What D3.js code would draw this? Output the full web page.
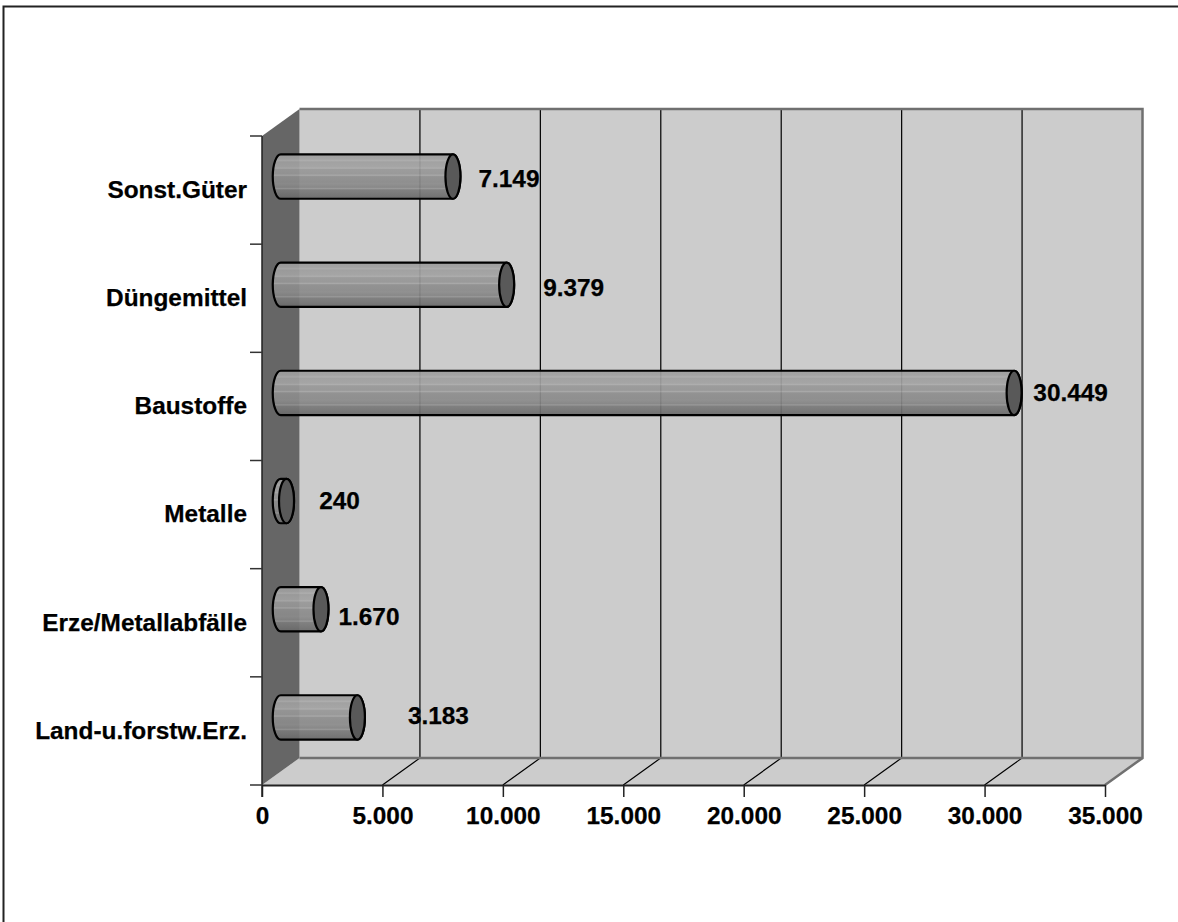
<!DOCTYPE html>
<html>
<head>
<meta charset="utf-8">
<script src="https://cdn.jsdelivr.net/npm/d3@7"></script>
<style>
  html, body { margin: 0; padding: 0; background: #fff; }
  svg { display: block; }
  text { font-family: "Liberation Sans", Arial, sans-serif; font-weight: bold; fill: #000; stroke: #000; stroke-width: 0.25px; }
</style>
</head>
<body>
<div id="chart"></div>
<script>
// data, top to bottom
var categories = ["Sonst.Güter", "Düngemittel", "Baustoffe", "Metalle", "Erze/Metallabfälle", "Land-u.forstw.Erz."];
var values = [7149, 9379, 30449, 240, 1670, 3183];
var xTicks = [0, 5000, 10000, 15000, 20000, 25000, 30000, 35000];

// the value labels were placed by hand in the original
var labelShiftX = [56, 67, 56.5, 53, 48, 81];
var labelShiftY = [2, 2, -1, -1, 7, -2];

var width = 1178, height = 922;
var depthX = 37.5, depthY = 27;
var fontSize = "24.4px";

var svg = d3.select("#chart").append("svg")
  .attr("width", width)
  .attr("height", height);

// outer frame, only top and left are visible
svg.append("path")
  .attr("d", "M3.5,922V6.5H1178")
  .attr("fill", "none")
  .attr("stroke", "#222")
  .attr("stroke-width", 2);

var x = d3.scaleLinear().domain([0, 35000]).range([262, 1105]);
var y = d3.scaleBand().domain(categories).range([136, 785]);

var de = d3.formatLocale({ decimal: ",", thousands: ".", grouping: [3], currency: ["", " €"] });
var fmt = de.format(",d");

var x0 = x(0), x1 = x(35000), yTop = y.range()[0], yBot = y.range()[1];

// back wall
svg.append("rect")
  .attr("x", x0 + depthX).attr("y", yTop - depthY)
  .attr("width", x1 - x0).attr("height", yBot - yTop)
  .attr("fill", "#cccccc");

// floor
svg.append("path")
  .attr("d", "M" + x0 + "," + yBot + "L" + (x0 + depthX) + "," + (yBot - depthY) +
    "H" + (x1 + depthX) + "L" + x1 + "," + yBot + "Z")
  .attr("fill", "#cccccc");

// left wall
svg.append("path")
  .attr("d", "M" + x0 + "," + yTop + "L" + (x0 + depthX) + "," + (yTop - depthY) +
    "V" + (yBot - depthY) + "L" + x0 + "," + yBot + "Z")
  .attr("fill", "#666666");

// gridlines on wall and floor
var inner = xTicks.slice(1, -1);
svg.append("g").selectAll("path").data(inner).enter().append("path")
  .attr("d", function(d) {
    return "M" + (x(d) + depthX) + "," + (yTop - depthY) + "V" + (yBot - depthY) +
      "L" + x(d) + "," + yBot;
  })
  .attr("fill", "none")
  .attr("stroke", "#000")
  .attr("stroke-width", 1.2);

// grey border of wall and floor
svg.append("path")
  .attr("d", "M" + (x0 + depthX) + "," + (yTop - depthY) + "H" + (x1 + depthX) +
    "V" + (yBot - depthY) + "L" + x1 + "," + yBot)
  .attr("fill", "none")
  .attr("stroke", "#707070")
  .attr("stroke-width", 2.5);
svg.append("path")
  .attr("d", "M" + (x0 + depthX) + "," + (yBot - depthY) + "H" + (x1 + depthX))
  .attr("stroke", "#707070")
  .attr("stroke-width", 2.5);

// banded metal look of the bars
var defs = svg.append("defs");
var grad = defs.append("linearGradient")
  .attr("id", "barFill")
  .attr("x1", 0).attr("y1", 0).attr("x2", 0).attr("y2", 1);
[[0, "#9c9c9c"], [0.1, "#a0a0a0"], [0.14, "#ababab"], [0.17, "#9e9e9e"], [0.28, "#a2a2a2"], [0.31, "#ababab"],
 [0.34, "#989898"], [0.44, "#959595"], [0.47, "#a6a6a6"], [0.5, "#8e8e8e"], [0.62, "#8a8a8a"], [0.66, "#8c8c8c"],
 [0.74, "#838383"], [0.77, "#959595"], [0.8, "#7a7a7a"], [0.9, "#727272"], [1, "#686868"]].forEach(function(s) {
  grad.append("stop").attr("offset", s[0]).attr("stop-color", s[1]);
});

var barH = y.bandwidth() * 0.41;
var ry = barH / 2, rxL = 8, rxR = 7.5;
var startX = x0 + depthX / 2;

function barCenter(name) {
  return y(name) + y.bandwidth() / 2 - depthY / 2;
}
function barEnd(v) {
  return startX + x(v) - x0;
}

var bars = svg.append("g").selectAll("g").data(categories).enter().append("g");

bars.append("path")
  .attr("d", function(d, i) {
    var c = barCenter(d), e = barEnd(values[i]);
    return "M" + startX + "," + (c - ry) + "L" + e + "," + (c - ry) +
      "A" + rxR + "," + ry + " 0 0 1 " + e + "," + (c + ry) +
      "L" + startX + "," + (c + ry) +
      "A" + rxL + "," + ry + " 0 0 1 " + startX + "," + (c - ry) + "Z";
  })
  .attr("fill", "url(#barFill)")
  .attr("fill-opacity", 0.92)
  .attr("stroke", "#000")
  .attr("stroke-width", 2.2);

bars.append("ellipse")
  .attr("cx", function(d, i) { return barEnd(values[i]); })
  .attr("cy", barCenter)
  .attr("rx", rxR)
  .attr("ry", ry)
  .attr("fill", "#595959")
  .attr("stroke", "#000")
  .attr("stroke-width", 2.2);

// value labels
svg.append("g").selectAll("text").data(categories).enter().append("text")
  .attr("x", function(d, i) { return barEnd(values[i]) + labelShiftX[i]; })
  .attr("y", function(d, i) { return barCenter(d) + labelShiftY[i]; })
  .attr("text-anchor", "middle")
  .attr("dy", "0.36em")
  .style("font-size", fontSize)
  .text(function(d, i) { return fmt(values[i]); });

// axes
var xAxis = d3.axisBottom(x).tickValues(xTicks).tickFormat(fmt).tickSize(12).tickSizeOuter(0).tickPadding(10);
var gx = svg.append("g").attr("transform", "translate(0," + yBot + ")").call(xAxis);
gx.attr("font-family", null).attr("font-size", null);
gx.select(".domain").attr("stroke", "#222").attr("stroke-width", 2);
gx.selectAll(".tick line").attr("stroke", "#222").attr("stroke-width", 1.5);
gx.selectAll(".tick text").style("font-size", fontSize);

var yAxis = d3.axisLeft(y).tickSize(0).tickPadding(15);
var gy = svg.append("g").attr("transform", "translate(" + x0 + ",0)").call(yAxis);
gy.attr("font-family", null).attr("font-size", null);
gy.select(".domain").remove();
gy.selectAll(".tick text").style("font-size", fontSize);

// axis line and separators between categories
svg.append("line")
  .attr("x1", x0).attr("x2", x0)
  .attr("y1", yTop).attr("y2", yBot + 12)
  .attr("stroke", "#222").attr("stroke-width", 1.5);
svg.append("g").selectAll("line").data(d3.range(categories.length + 1)).enter().append("line")
  .attr("x1", x0 - 12).attr("x2", x0)
  .attr("y1", function(i) { return yTop + i * y.step(); })
  .attr("y2", function(i) { return yTop + i * y.step(); })
  .attr("stroke", "#333").attr("stroke-width", 1.5);
</script>
</body>
</html>
